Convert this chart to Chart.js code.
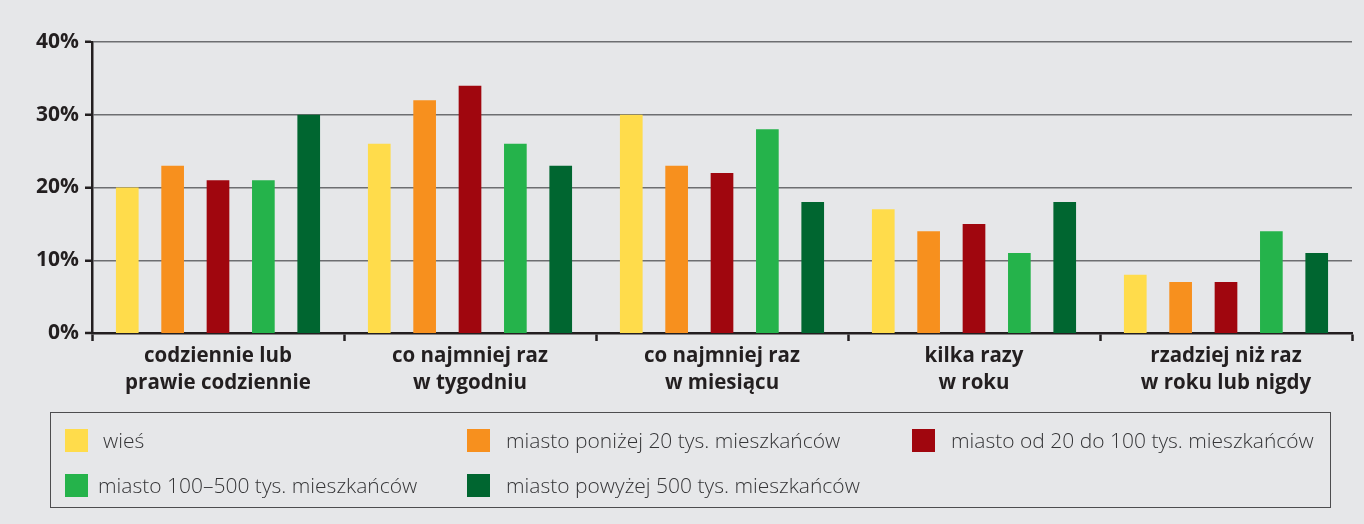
<!DOCTYPE html>
<html><head><meta charset="utf-8">
<script src="https://cdn.jsdelivr.net/npm/chart.js@4"></script>
<style>
html,body{margin:0;padding:0;background:#e6e7e9;}
#wrap{position:relative;width:1364px;height:524px;overflow:hidden;background:#e6e7e9;}
#c{position:absolute;left:0;top:0;}
#legend{position:absolute;left:50px;top:412px;width:1281px;height:96px;border:1.5px solid #4d4d4f;box-sizing:border-box;font-family:"Open Sans",sans-serif;font-weight:300;font-size:21px;color:#353537;}
.li{position:absolute;display:flex;align-items:center;height:24px;}
.sw{width:23px;height:23px;display:inline-block;flex:none;}
.tx{white-space:nowrap;}
</style></head>
<body><div id="wrap"><canvas id="c" width="1364" height="524"></canvas><div id="legend"></div></div>
<script>
const categories = [["codziennie lub","prawie codziennie"],["co najmniej raz","w tygodniu"],["co najmniej raz","w miesiącu"],["kilka razy","w roku"],["rzadziej niż raz","w roku lub nigdy"]];
const seriesNames = ["wieś","miasto poniżej 20 tys. mieszkańców","miasto od 20 do 100 tys. mieszkańców","miasto 100–500 tys. mieszkańców","miasto powyżej 500 tys. mieszkańców"];
const wies = [20,26,30,17,8];
const ponizej20 = [23,32,23,14,7];
const od20do100 = [21,34,22,15,7];
const od100do500 = [21,26,28,11,14];
const powyzej500 = [30,23,18,18,11];
const yTicks = [0,10,20,30,40];
const colors = ["#ffdc4b","#f7901e","#a0060e","#25b34b","#006630"];

const seriesValues = [wies,ponizej20,od20do100,od100do500,powyzej500];
const datasets = seriesNames.map((n,i)=>({label:n,data:seriesValues[i],backgroundColor:colors[i],borderWidth:0,categoryPercentage:0.9,barPercentage:0.5}));

const dark = "#231f20";
new Chart(document.getElementById('c'),{
  type:'bar',
  data:{labels:categories,datasets},
  options:{
    responsive:false,animation:false,
    layout:{padding:{top:42,right:12,bottom:126,left:0}},
    plugins:{legend:{display:false},tooltip:{enabled:false}},
    scales:{
      x:{
        grid:{drawOnChartArea:false,drawTicks:true,tickLength:8,color:dark,tickWidth:2.5,offset:true},
        border:{color:dark,width:2.5},
        ticks:{color:dark,font:{family:"Open Sans",weight:'bold',size:20.5,lineHeight:1.32},padding:2,maxRotation:0},
        afterFit:(s)=>{s.height=65;}
      },
      y:{
        min:0,max:40,
        afterBuildTicks:(s)=>{s.ticks=yTicks.map(v=>({value:v}));},
        grid:{color:"#6d6e71",lineWidth:(ctx)=>ctx.tick&&ctx.tick.value===0?0:1.5,tickColor:dark,tickLength:7,tickWidth:2.5},
        border:{color:dark,width:2.5},
        ticks:{color:dark,font:{family:"Open Sans",weight:'bold',size:21},padding:6,callback:v=>v+'%'},
        afterFit:(s)=>{s.width=92;}
      }
    }
  }
});

const pos = [[14,15,15],[416,15,16],[861,15,16],[14,60,10],[416,60,16]];
const lg = document.getElementById('legend');
seriesNames.forEach((n,i)=>{
  const d=document.createElement('div');d.className='li';
  d.style.left=pos[i][0]+'px';d.style.top=pos[i][1]+'px';
  d.innerHTML='<span class="sw" style="background:'+colors[i]+'"></span><span class="tx" style="margin-left:'+pos[i][2]+'px">'+n+'</span>';
  lg.appendChild(d);
});
</script></body></html>
